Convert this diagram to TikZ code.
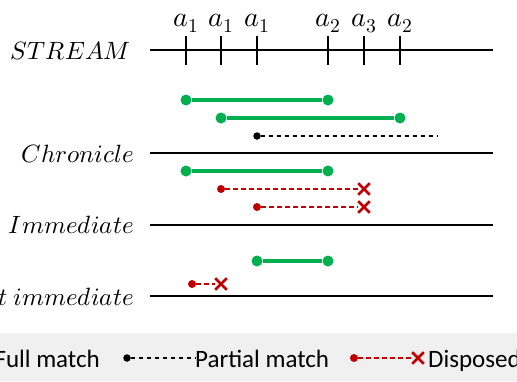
\documentclass[tikz,border=0pt]{standalone}
\usepackage{fontspec}
\usepackage{unicode-math}
\setmathfont{Latin Modern Math}
\newfontfamily\legendfont{Carlito}
\usetikzlibrary{shapes.misc}
\definecolor{matchgreen}{HTML}{00B050}
\definecolor{dropred}{HTML}{C00000}
\definecolor{legendbg}{HTML}{F0F0F0}
\tikzset{
  timeline/.style={line width=2.2pt, black},
  tickmark/.style={line width=2.2pt, black},
  ticklabel/.style={anchor=base, inner sep=0pt, font=\fontsize{28}{32}\selectfont},
  rowlabel/.style={anchor=east, inner sep=0pt, font=\fontsize{25}{30}\selectfont},
  gdot/.style={circle, fill=matchgreen, inner sep=0pt, minimum size=11pt},
  gline/.style={line width=3.6pt, matchgreen},
  kdot/.style={circle, fill=black, inner sep=0pt, minimum size=7.5pt},
  kline/.style={line width=1.8pt, black, dash pattern=on 4.5pt off 3.5pt},
  rdot/.style={circle, fill=dropred, inner sep=0pt, minimum size=8pt},
  rline/.style={line width=1.8pt, dropred, dash pattern=on 4.5pt off 3.5pt},
  rcross/.style={cross out, draw=dropred, line width=2.6pt, inner sep=0pt, minimum size=9pt},
  legendtext/.style={inner sep=0pt, font=\legendfont\fontsize{25}{30}\selectfont},
}
\begin{document}
\begin{tikzpicture}[x=1pt, y=-1pt]
\useasboundingbox (0,0) rectangle (517,381);
\clip (0,0) rectangle (517,381);

% legend band
\fill[legendbg] (0,333) rectangle (517,381);

% stream axis with event ticks
\node[rowlabel] (lstream) at (131,51) {$STREAM$};
\coordinate (s0) at (150,50);
\coordinate (s1) at (493,50);
\draw[timeline] (s0) -- (s1);
\foreach \x/\lab [count=\i] in {186/a_1, 221/a_1, 257/a_1, 328/a_2, 364/a_3, 400/a_2} {
  \coordinate (t\i top) at (\x,36);
  \coordinate (t\i bot) at (\x,65);
  \draw[tickmark] (t\i top) -- (t\i bot);
  \node[ticklabel] (e\i) at (\x,26) {$\lab$};
}

% chronicle
\node[gdot] (c1a) at (186,100) {};
\node[gdot] (c1b) at (328,100) {};
\draw[gline] (c1a) -- (c1b);
\node[gdot] (c2a) at (221,118) {};
\node[gdot] (c2b) at (400,118) {};
\draw[gline] (c2a) -- (c2b);
\node[kdot] (c3a) at (257,136) {};
\coordinate (c3b) at (437,136);
\draw[kline] (c3a) -- (c3b);
\node[rowlabel] (lchron) at (134,154) {$Chronicle$};
\coordinate (ch0) at (150,153);
\coordinate (ch1) at (493,153);
\draw[timeline] (ch0) -- (ch1);

% immediate
\node[gdot] (i1a) at (186,171) {};
\node[gdot] (i1b) at (328,171) {};
\draw[gline] (i1a) -- (i1b);
\node[rdot] (i2a) at (221,189) {};
\node[rcross] (i2b) at (364,189) {};
\draw[rline] (i2a) -- (i2b);
\node[rdot] (i3a) at (257,207) {};
\node[rcross] (i3b) at (364,207) {};
\draw[rline] (i3a) -- (i3b);
\node[rowlabel] (limm) at (134,225) {$Immediate$};
\coordinate (im0) at (150,225);
\coordinate (im1) at (493,225);
\draw[timeline] (im0) -- (im1);

% next immediate
\node[gdot] (n1a) at (257,261) {};
\node[gdot] (n1b) at (328,261) {};
\draw[gline] (n1a) -- (n1b);
\node[rdot] (n2a) at (192,284) {};
\node[rcross] (n2b) at (221,284) {};
\draw[rline] (n2a) -- (n2b);
\node[rowlabel] (lnext) at (134,297) {$Next\:immediate$};
\coordinate (nx0) at (150,296);
\coordinate (nx1) at (493,296);
\draw[timeline] (nx0) -- (nx1);

% legend
\node[gdot] (k1a) at (-60,358) {};
\node[gdot] (k1b) at (-10,358) {};
\draw[gline] (k1a) -- (k1b);
\node[legendtext, anchor=base east] (kfull) at (100,367) {Full match};
\node[kdot] (k2a) at (127,358) {};
\node[legendtext, anchor=base west] (kpart) at (195,367) {Partial match};
\draw[kline] (k2a) -- (kpart.west |- k2a);
\node[rdot] (k3a) at (354,358) {};
\node[rcross] (k3b) at (418,358) {};
\draw[rline] (k3a) -- (k3b);
\node[legendtext, anchor=base west] (kdisp) at (428,367) {Disposed};
\end{tikzpicture}
\end{document}
